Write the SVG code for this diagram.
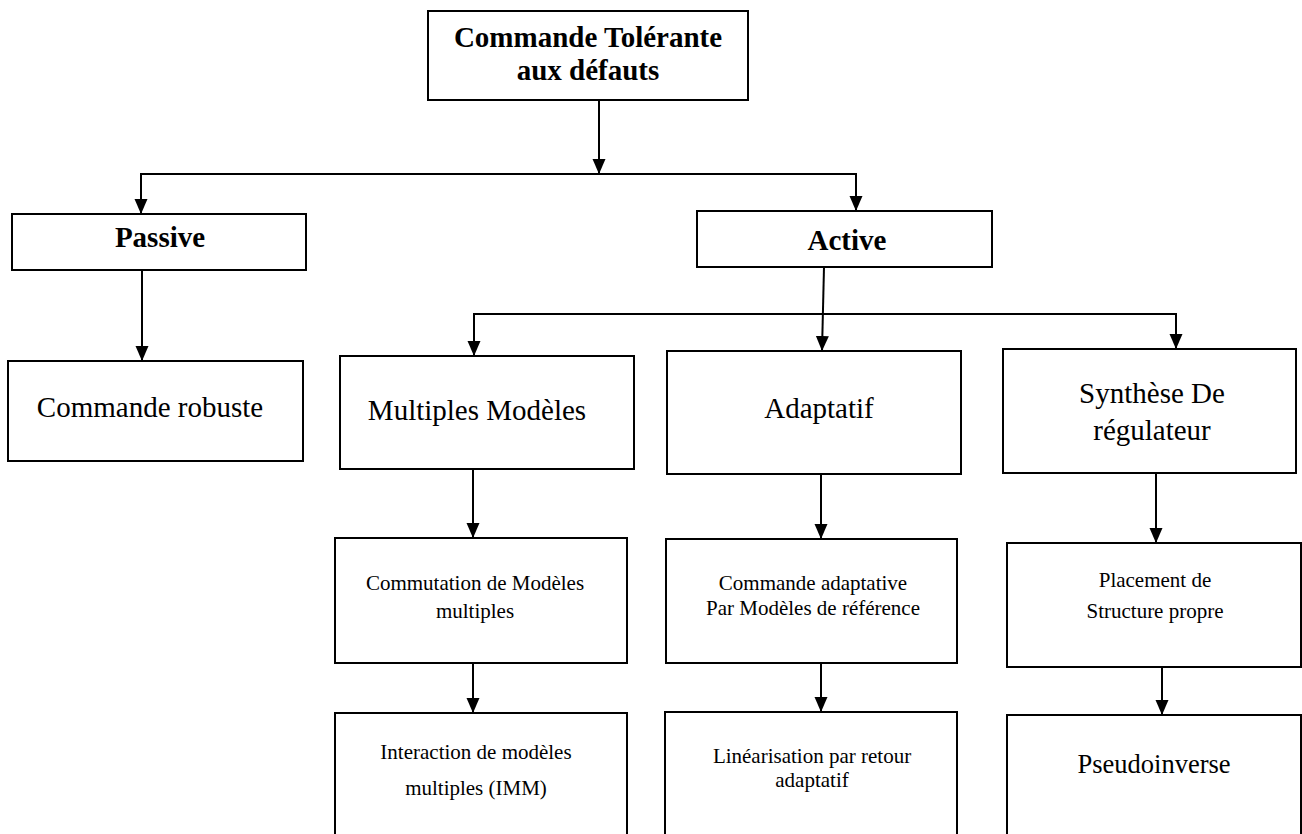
<svg xmlns="http://www.w3.org/2000/svg" width="1302" height="834" viewBox="0 0 1302 834">
  <defs>
    <style>
      .box { fill: #ffffff; stroke: #000000; stroke-width: 2; }
      .wire { fill: none; stroke: #000000; stroke-width: 2; }
      .txt { font-family: "Liberation Serif", "Times New Roman", serif; fill: #000000; text-anchor: middle; }
      .bold { font-weight: bold; font-size: 29px; }
      .big { font-size: 29px; }
      .mid { font-size: 26.5px; }
      .small { font-size: 21px; }
    </style>
    <marker id="arrow" markerUnits="userSpaceOnUse" markerWidth="16" markerHeight="14" refX="15" refY="6.5" orient="auto">
      <path d="M0,0 L15,6.5 L0,13 z" fill="#000000"/>
    </marker>
  </defs>
  <rect width="1302" height="834" fill="#ffffff"/>

  <!-- connectors -->
  <g id="connectors">
    <line class="wire" x1="599" y1="100" x2="599" y2="174" marker-end="url(#arrow)"/>
    <polyline class="wire" points="599,174 141,174 141,214" marker-end="url(#arrow)"/>
    <polyline class="wire" points="599,174 856,174 856,211" marker-end="url(#arrow)"/>
    <line class="wire" x1="142" y1="270" x2="142" y2="361" marker-end="url(#arrow)"/>
    <line class="wire" x1="824" y1="267" x2="822" y2="351" marker-end="url(#arrow)"/>
    <polyline class="wire" points="823,314 474,314 474,356" marker-end="url(#arrow)"/>
    <polyline class="wire" points="823,314 1176,314 1176,349" marker-end="url(#arrow)"/>
    <line class="wire" x1="473" y1="469" x2="473" y2="538" marker-end="url(#arrow)"/>
    <line class="wire" x1="821" y1="474" x2="821" y2="539" marker-end="url(#arrow)"/>
    <line class="wire" x1="1156" y1="473" x2="1156" y2="543" marker-end="url(#arrow)"/>
    <line class="wire" x1="473" y1="663" x2="473" y2="713" marker-end="url(#arrow)"/>
    <line class="wire" x1="821" y1="663" x2="821" y2="712" marker-end="url(#arrow)"/>
    <line class="wire" x1="1162" y1="667" x2="1162" y2="715" marker-end="url(#arrow)"/>
  </g>

  <!-- root -->
  <g id="node-root">
    <rect class="box" x="428" y="11" width="320" height="89"/>
    <text class="txt bold" x="588" y="47">Commande Tolérante</text>
    <text class="txt bold" x="588" y="80">aux défauts</text>
  </g>

  <!-- first level -->
  <g id="node-passive">
    <rect class="box" x="12" y="214" width="294" height="56"/>
    <text class="txt bold" x="160" y="247">Passive</text>
  </g>
  <g id="node-active">
    <rect class="box" x="697" y="211" width="295" height="56"/>
    <text class="txt bold" x="847" y="250">Active</text>
  </g>

  <!-- second level -->
  <g id="node-robuste">
    <rect class="box" x="8" y="361" width="295" height="100"/>
    <text class="txt big" x="150" y="417">Commande robuste</text>
  </g>
  <g id="node-multiples">
    <rect class="box" x="340" y="356" width="294" height="113"/>
    <text class="txt big" x="477" y="420">Multiples Modèles</text>
  </g>
  <g id="node-adaptatif">
    <rect class="box" x="667" y="351" width="294" height="123"/>
    <text class="txt big" x="819" y="418">Adaptatif</text>
  </g>
  <g id="node-synthese">
    <rect class="box" x="1003" y="349" width="293" height="124"/>
    <text class="txt big" x="1152" y="403">Synthèse De</text>
    <text class="txt big" x="1152" y="440">régulateur</text>
  </g>

  <!-- third level -->
  <g id="node-commutation">
    <rect class="box" x="335" y="538" width="292" height="125"/>
    <text class="txt small" x="475" y="590">Commutation de Modèles</text>
    <text class="txt small" x="475" y="618">multiples</text>
  </g>
  <g id="node-mrac">
    <rect class="box" x="666" y="539" width="291" height="124"/>
    <text class="txt small" x="813" y="590">Commande adaptative</text>
    <text class="txt small" x="813" y="615">Par Modèles de référence</text>
  </g>
  <g id="node-placement">
    <rect class="box" x="1007" y="543" width="294" height="124"/>
    <text class="txt small" x="1155" y="587">Placement de</text>
    <text class="txt small" x="1155" y="618">Structure propre</text>
  </g>

  <!-- fourth level -->
  <g id="node-imm">
    <rect class="box" x="335" y="713" width="292" height="140"/>
    <text class="txt small" x="476" y="759">Interaction de modèles</text>
    <text class="txt small" x="476" y="795">multiples (IMM)</text>
  </g>
  <g id="node-linearisation">
    <rect class="box" x="665" y="712" width="292" height="140"/>
    <text class="txt small" x="812" y="763">Linéarisation par retour</text>
    <text class="txt small" x="812" y="787">adaptatif</text>
  </g>
  <g id="node-pseudoinverse">
    <rect class="box" x="1007" y="715" width="294" height="140"/>
    <text class="txt mid" x="1154" y="773">Pseudoinverse</text>
  </g>
</svg>
